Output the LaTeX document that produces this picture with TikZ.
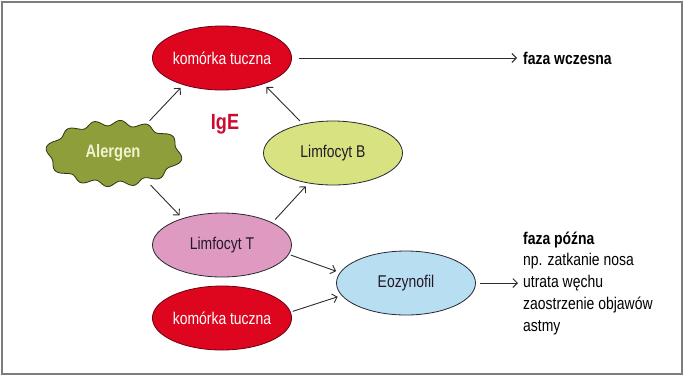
\documentclass[tikz,border=0pt]{standalone}
\usepackage{fontspec}
\setmainfont{Liberation Sans}[FakeStretch=0.82]
\usetikzlibrary{arrows.meta,shapes.geometric}
\definecolor{cred}{RGB}{222,6,30}
\definecolor{credline}{RGB}{110,0,20}
\definecolor{colive}{RGB}{142,158,58}
\definecolor{coliveline}{RGB}{45,55,20}
\definecolor{colivetext}{RGB}{242,242,205}
\definecolor{clb}{RGB}{216,226,128}
\definecolor{clt}{RGB}{222,154,192}
\definecolor{ceoz}{RGB}{184,222,242}
\definecolor{cline}{RGB}{40,40,50}
\definecolor{ctext}{RGB}{35,25,40}
\definecolor{cige}{RGB}{205,10,45}
\definecolor{arrowgray}{RGB}{45,45,45}
\definecolor{framegray}{RGB}{125,125,125}
\begin{document}
\begin{tikzpicture}[x=1pt,y=-1pt,
  cell/.style={ellipse, minimum width=139pt, minimum height=64pt, inner sep=0pt,
    line width=0.8pt, draw=cline, text=ctext, font=\fontsize{17}{20}\selectfont},
  redcell/.style={cell, draw=credline, fill=cred, text=white},
  plain/.style={inner sep=0pt, font=\fontsize{17}{21.7}\selectfont, text=black},
  arr/.style={-{Straight Barb[length=4.5pt,width=9pt]}, line width=0.9pt, draw=arrowgray,
    shorten <=4pt, shorten >=4pt}]
\useasboundingbox (0,0) rectangle (684,376);
\draw[framegray, line width=1.5pt] (2,2) rectangle (682,374);
% Alergen wavy blob
\draw[fill=colive, draw=coliveline, line width=0.8pt]
  plot[smooth cycle, domain=0:358, samples=180, variable=\t]
  ({114+(66+2.8*sin(12*(\t-10.7*sin(2*\t))))*cos(\t)},
   {153.5+(30.5+2.8*sin(12*(\t-10.7*sin(2*\t))))*sin(\t)});
\node[ellipse, minimum width=138pt, minimum height=67pt, inner sep=0pt,
  text=colivetext, font=\fontsize{18}{20}\selectfont\bfseries] (alergen) at (113,153) {Alergen};
\node[redcell] (top) at (222,58) {komórka tuczna};
\node[cell, fill=clb] (lb) at (333,153) {Limfocyt B};
\node[cell, fill=clt] (lt) at (222,245) {Limfocyt T};
\node[redcell] (bot) at (222,318) {komórka tuczna};
\node[cell, fill=ceoz] (eoz) at (406,283) {Eozynofil};
\node[inner sep=0pt, text=cige, font=\fontsize{22}{24}\selectfont\bfseries] (ige) at (225,124) {IgE};
\node[plain, anchor=west, font=\fontsize{17}{20}\selectfont\bfseries] (early) at (523,58) {faza wczesna};
\node[plain, anchor=base west, align=left] (late) at (523,331)
  {\textbf{faza późna}\\np. zatkanie nosa\\utrata węchu\\zaostrzenie objawów\\astmy};
% connectors
\draw[arr] (alergen.41) -- (top.215);
\draw[arr] (lb.136) -- (top.328);
\draw[arr, shorten <=7pt, shorten >=6pt] (top.east) -- (early.west);
\draw[arr] (alergen.320) -- (lt.146);
\draw[arr] (lt.24) -- (lb.231);
\draw[arr, shorten <=2pt] (lt.352) -- (eoz.171);
\draw[arr, shorten <=2pt] (bot.5) -- (eoz.191);
\draw[arr, shorten <=4pt, shorten >=5pt] (eoz.east) -- (eoz.east -| late.west);
\end{tikzpicture}
\end{document}
